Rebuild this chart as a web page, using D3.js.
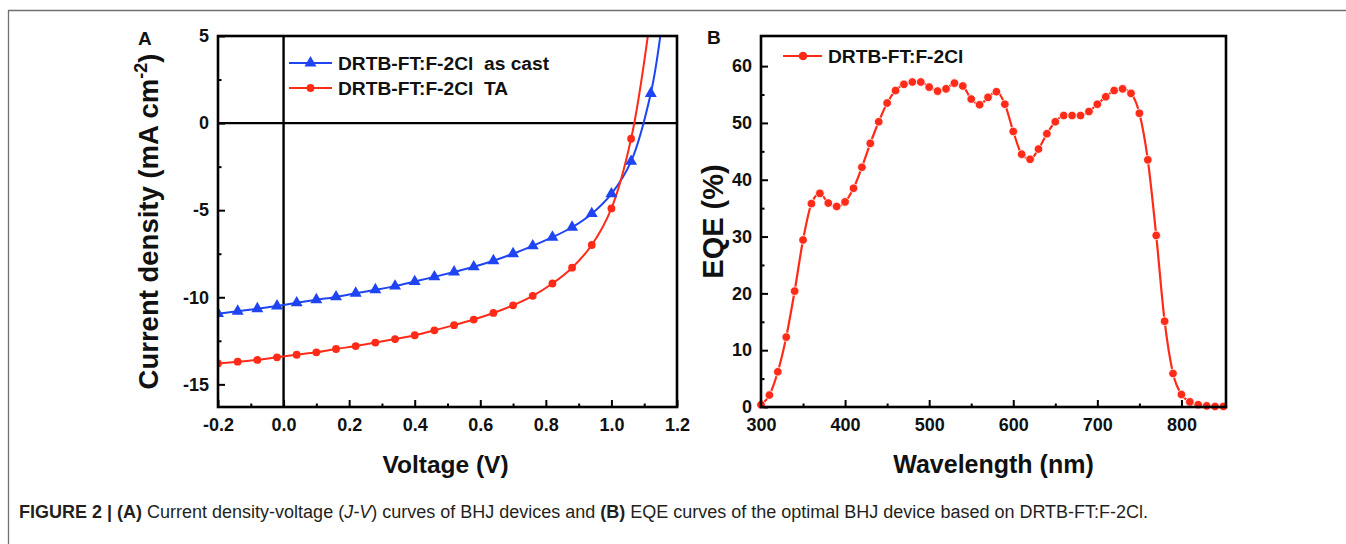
<!DOCTYPE html>
<html><head><meta charset="utf-8">
<script src="https://cdn.jsdelivr.net/npm/d3@7"></script>
<style>
html,body{margin:0;padding:0;background:#fff;}
svg{display:block;}
text{font-family:"Liberation Sans",Arial,Helvetica,sans-serif;}
</style></head><body>
<svg id="fig" width="1346" height="544"></svg>
<script>
// ---------- Panel A data (J-V) ----------
const voltage = [-0.20,-0.14,-0.08,-0.02,0.04,0.10,0.16,0.22,0.28,0.34,0.40,0.46,0.52,0.58,0.64,0.70,0.76,0.82,0.88,0.94,1.00,1.06,1.12];
const jAsCast = [-10.94,-10.80,-10.66,-10.50,-10.32,-10.14,-9.98,-9.77,-9.57,-9.36,-9.10,-8.83,-8.55,-8.25,-7.90,-7.50,-7.05,-6.55,-5.98,-5.20,-4.06,-2.20,1.70];
const jTA     = [-13.80,-13.70,-13.60,-13.45,-13.30,-13.16,-12.97,-12.80,-12.60,-12.40,-12.18,-11.90,-11.60,-11.28,-10.90,-10.46,-9.92,-9.21,-8.30,-7.00,-4.90,-0.90];
const asCastEndV = 1.149, asCastEndJ = 5;
const taEndV = 1.111, taEndJ = 5;
const seriesNamesA = ["DRTB-FT:F-2Cl  as cast", "DRTB-FT:F-2Cl  TA"];
const xTicksA = [-0.2,0.0,0.2,0.4,0.6,0.8,1.0,1.2];
const xMinorA = [-0.1,0.1,0.3,0.5,0.7,0.9,1.1];
const yTicksA = [-15,-10,-5,0,5];
const yMinorA = [-12.5,-7.5,-2.5,2.5];

// ---------- Panel B data (EQE) ----------
const wavelength = [300,310,320,330,340,350,360,370,380,390,400,410,420,430,440,450,460,470,480,490,500,510,520,530,540,550,560,570,580,590,600,610,620,630,640,650,660,670,680,690,700,710,720,730,740,750,760,770,780,790,800,810,820,830,840,850];
const eqe = [0.4,2.1,6.2,12.3,20.4,29.4,35.8,37.6,35.9,35.3,36.1,38.5,42.2,46.4,50.2,53.5,55.7,56.8,57.2,57.2,56.3,55.6,56.0,57.0,56.5,54.2,53.2,54.5,55.5,53.3,48.5,44.5,43.6,45.4,48.1,50.2,51.3,51.3,51.3,52.0,53.3,54.6,55.7,56.0,55.2,51.7,43.5,30.2,15.1,5.9,2.2,0.9,0.4,0.2,0.1,0.1];
const seriesNameB = "DRTB-FT:F-2Cl";
const xTicksB = [300,400,500,600,700,800];
const xMinorB = [350,450,550,650,750];
const yTicksB = [0,10,20,30,40,50,60];
const yMinorB = [5,15,25,35,45,55];

const BLUE = "#1f44f2", RED = "#ff2a17";
const svg = d3.select("#fig");

// figure frame (partial, page border)
svg.append("path").attr("d","M8.5,544 V10.5 H1346").attr("fill","none").attr("stroke","#707070").attr("stroke-width",1.3);

function styleAxis(g, fs){
  g.select(".domain").remove();
  g.selectAll(".tick line").attr("stroke","#000").attr("stroke-width",2);
  g.selectAll(".tick text").attr("font-size",fs).attr("font-weight","bold").attr("fill","#111")
   .attr("font-family",'"Liberation Sans",Arial,sans-serif');
}

function drawAxes(g, P, x, y, xt, xm, yt, ym, xf, yf){
  g.append("g").attr("transform",`translate(0,${P.b})`)
    .call(d3.axisBottom(x).tickValues(xm).tickFormat("").tickSizeInner(-3.5).tickSizeOuter(0))
    .call(s=>styleAxis(s,18));
  g.append("g").attr("transform",`translate(0,${P.b})`)
    .call(d3.axisBottom(x).tickValues(xt).tickFormat(xf).tickSizeInner(-7).tickSizeOuter(0).tickPadding(11))
    .call(s=>styleAxis(s,18));
  g.append("g").attr("transform",`translate(${P.l},0)`)
    .call(d3.axisLeft(y).tickValues(ym).tickFormat("").tickSizeInner(-3.5).tickSizeOuter(0))
    .call(s=>styleAxis(s,18));
  g.append("g").attr("transform",`translate(${P.l},0)`)
    .call(d3.axisLeft(y).tickValues(yt).tickFormat(yf).tickSizeInner(-7).tickSizeOuter(0).tickPadding(9))
    .call(s=>styleAxis(s,18));
}

// ================= Panel A =================
const A = {l:218, r:677, t:36, b:407};
const xA = d3.scaleLinear().domain([-0.2,1.2]).range([A.l,A.r]);
const yA = d3.scaleLinear().domain([-16.3,5]).range([A.b,A.t]);
const gA = svg.append("g");
svg.append("clipPath").attr("id","clipA").append("rect").attr("x",A.l).attr("y",A.t).attr("width",A.r-A.l).attr("height",A.b-A.t);

drawAxes(gA, A, xA, yA, xTicksA, xMinorA, yTicksA, yMinorA, d=>d.toFixed(1), d=>String(d));

// zero lines
gA.append("line").attr("x1",A.l).attr("x2",A.r).attr("y1",yA(0)).attr("y2",yA(0)).attr("stroke","#000").attr("stroke-width",2.4);
gA.append("line").attr("x1",xA(0)).attr("x2",xA(0)).attr("y1",A.t).attr("y2",A.b).attr("stroke","#000").attr("stroke-width",2.4);

const lineA = d3.line().x(d=>xA(d[0])).y(d=>yA(d[1])).curve(d3.curveCatmullRom.alpha(0.5));
const blueData = voltage.map((v,i)=>[v,jAsCast[i]]);
const redData = jTA.map((j,i)=>[voltage[i],j]);
const plotA = gA.append("g").attr("clip-path","url(#clipA)");
plotA.append("path").datum(blueData.concat([[asCastEndV,asCastEndJ]])).attr("d",lineA)
  .attr("fill","none").attr("stroke",BLUE).attr("stroke-width",2);
plotA.append("path").datum(redData.concat([[taEndV,taEndJ]])).attr("d",lineA)
  .attr("fill","none").attr("stroke",RED).attr("stroke-width",2);
const tri = d3.symbol().type(d3.symbolTriangle).size(62);
plotA.selectAll(".tri").data(blueData).join("path").attr("class","tri")
  .attr("transform",d=>`translate(${xA(d[0])},${yA(d[1])})`).attr("d",tri).attr("fill",BLUE);
plotA.selectAll(".cir").data(redData).join("circle").attr("class","cir")
  .attr("cx",d=>xA(d[0])).attr("cy",d=>yA(d[1])).attr("r",3.9).attr("fill",RED);

gA.append("rect").attr("x",A.l).attr("y",A.t).attr("width",A.r-A.l).attr("height",A.b-A.t)
  .attr("fill","none").attr("stroke","#000").attr("stroke-width",2.6);

// legend A
const legA = gA.append("g");
[[BLUE,"tri"],[RED,"cir"]].forEach((s,i)=>{
  const yy = 63 + i*25;
  legA.append("line").attr("x1",289).attr("x2",332).attr("y1",yy).attr("y2",yy).attr("stroke",s[0]).attr("stroke-width",2);
  if(s[1]==="tri") legA.append("path").attr("d",tri).attr("transform",`translate(310.5,${yy})`).attr("fill",s[0]);
  else legA.append("circle").attr("cx",310.5).attr("cy",yy).attr("r",3.9).attr("fill",s[0]);
  legA.append("text").attr("x",338).attr("y",yy+6.8).attr("font-size",19.2).attr("font-weight","bold").attr("fill","#111")
    .attr("xml:space","preserve").style("white-space","pre").text(seriesNamesA[i]);
});

// titles A
const ytA = gA.append("text").attr("transform",`translate(158,${(A.t+A.b)/2}) rotate(-90)`)
  .attr("text-anchor","middle").attr("font-size",27.5).attr("font-weight","bold").attr("fill","#111");
ytA.append("tspan").text("Current density (mA cm");
ytA.append("tspan").attr("font-size",18).attr("dy",-11).text("-2");
ytA.append("tspan").attr("dy",11).text(")");
gA.append("text").attr("x",(A.l+A.r)/2 - 2).attr("y",473).attr("text-anchor","middle")
  .attr("font-size",24.5).attr("font-weight","bold").attr("fill","#111").text("Voltage (V)");
gA.append("text").attr("x",138).attr("y",45).attr("font-size",19).attr("font-weight","bold").attr("fill","#111").text("A");

// ================= Panel B =================
const B = {l:761, r:1226, t:36, b:407};
const xB = d3.scaleLinear().domain([300,853]).range([B.l,B.r]);
const yB = d3.scaleLinear().domain([0,65.3]).range([B.b,B.t]);
const gB = svg.append("g");
drawAxes(gB, B, xB, yB, xTicksB, xMinorB, yTicksB, yMinorB, d=>String(d), d=>String(d));

const eqeData = wavelength.map((w,i)=>[w,eqe[i]]);
const lineB = d3.line().x(d=>xB(d[0])).y(d=>yB(d[1])).curve(d3.curveMonotoneX);
gB.append("path").datum(eqeData).attr("d",lineB).attr("fill","none").attr("stroke",RED).attr("stroke-width",2.2);
gB.selectAll(".pt").data(eqeData).join("circle").attr("class","pt")
  .attr("cx",d=>xB(d[0])).attr("cy",d=>yB(d[1])).attr("r",4.3).attr("fill",RED)
  .attr("stroke","#fff").attr("stroke-width",0.8);

gB.append("rect").attr("x",B.l).attr("y",B.t).attr("width",B.r-B.l).attr("height",B.b-B.t)
  .attr("fill","none").attr("stroke","#000").attr("stroke-width",2.6);

// legend B
gB.append("line").attr("x1",783).attr("x2",822).attr("y1",56).attr("y2",56).attr("stroke",RED).attr("stroke-width",2.2);
gB.append("circle").attr("cx",803).attr("cy",56).attr("r",4.3).attr("fill",RED);
gB.append("text").attr("x",828).attr("y",62.8).attr("font-size",19.2).attr("font-weight","bold").attr("fill","#111").text(seriesNameB);

gB.append("text").attr("transform",`translate(723,${(B.t+B.b)/2}) rotate(-90)`)
  .attr("text-anchor","middle").attr("font-size",29).attr("font-weight","bold").attr("fill","#111").text("EQE (%)");
gB.append("text").attr("x",(B.l+B.r)/2).attr("y",473).attr("text-anchor","middle")
  .attr("font-size",25).attr("font-weight","bold").attr("fill","#111").text("Wavelength (nm)");
gB.append("text").attr("x",707).attr("y",44).attr("font-size",19).attr("font-weight","bold").attr("fill","#111").text("B");

// ================= Caption =================
const cap = svg.append("text").attr("x",19).attr("y",518).attr("font-size",18).attr("fill","#231f20");
const parts = [
  ["FIGURE 2 | (A)","bold","normal"],
  [" Current density-voltage (","normal","normal"],
  ["J-V","normal","italic"],
  [") curves of BHJ devices and ","normal","normal"],
  ["(B)","bold","normal"],
  [" EQE curves of the optimal BHJ device based on DRTB-FT:F-2Cl.","normal","normal"]
];
parts.forEach(p=>cap.append("tspan").attr("font-weight",p[1]).attr("font-style",p[2]).attr("xml:space","preserve").style("white-space","pre").text(p[0]));
</script>
</body></html>
